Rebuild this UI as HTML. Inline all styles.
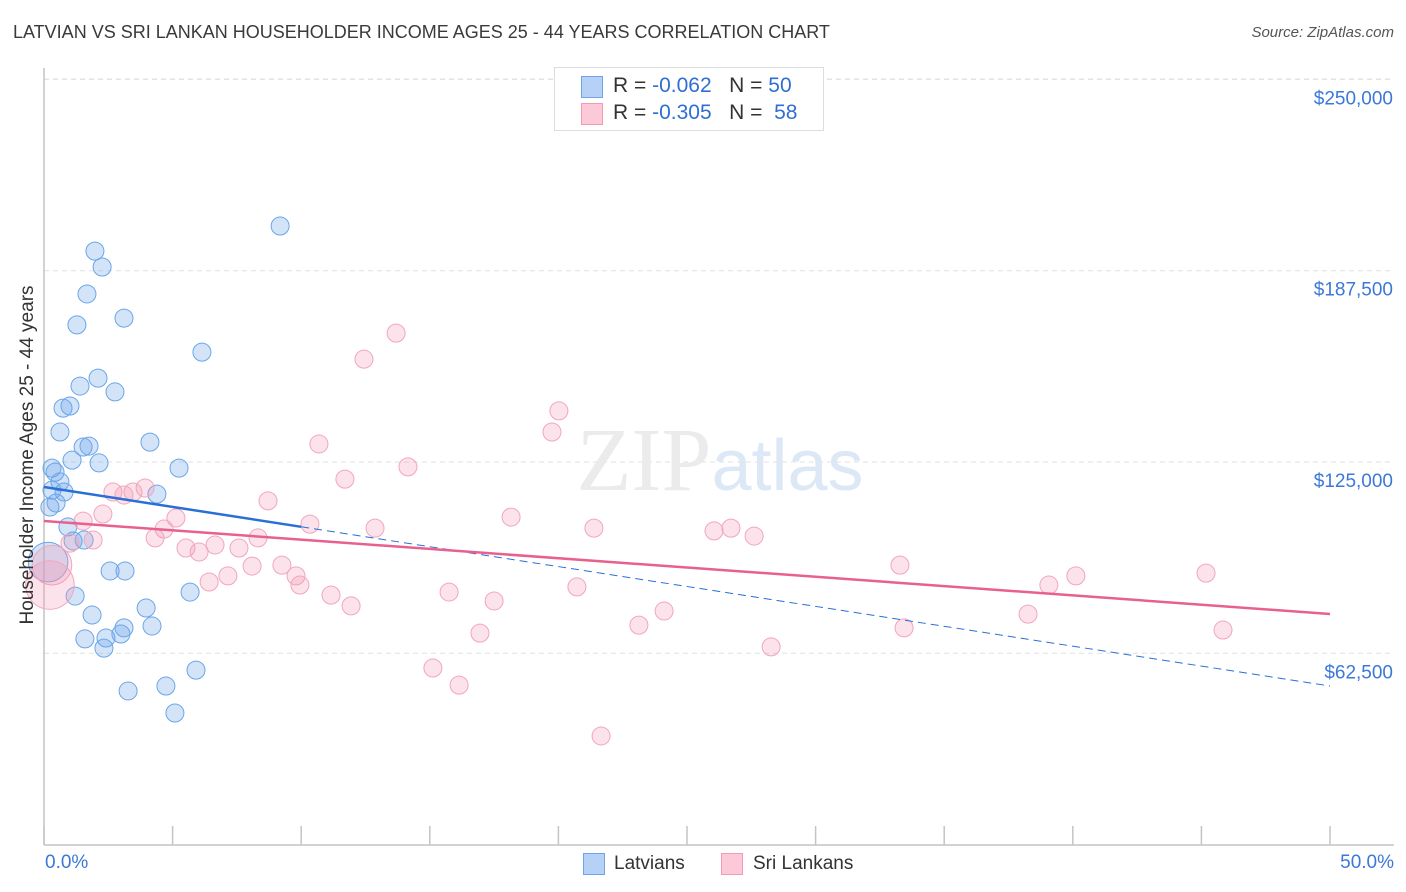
<!DOCTYPE html>
<html><head><meta charset="utf-8"><style>
body{margin:0;background:#fff;font-family:"Liberation Sans",sans-serif;}
#wrap{position:relative;width:1406px;height:892px;overflow:hidden}
.t{position:absolute;white-space:nowrap}
</style></head><body>
<div id="wrap">
<div class="t" style="left:13px;top:22px;font-size:18px;color:#3a3a3a">LATVIAN VS SRI LANKAN HOUSEHOLDER INCOME AGES 25 - 44 YEARS CORRELATION CHART</div>
<div class="t" style="right:12px;top:24px;font-size:15px;color:#555;font-style:italic">Source: ZipAtlas.com</div>
<svg id="svg" width="1406" height="892" style="position:absolute;left:0;top:0"></svg>
</div>
<script>
const yTicks=[62500,125000,187500,250000];
const yTickLabels=["$62,500","$125,000","$187,500","$250,000"];
const latX=[9.18,1.98,2.26,1.67,3.11,1.28,6.14,2.10,1.40,2.76,1.01,0.74,0.62,4.12,1.52,1.75,1.09,2.14,5.25,0.31,0.43,0.62,0.31,0.78,4.39,0.47,0.23,0.93,1.13,1.56,2.57,3.15,1.21,3.97,5.68,1.87,4.20,3.11,2.99,2.41,1.59,2.33,5.91,4.74,3.27,5.09,0.16];
const latY=[202.1,193.9,188.7,179.9,172.0,169.8,160.9,152.4,149.8,147.9,143.3,142.6,134.8,131.5,129.9,130.2,125.6,124.7,123.0,123.0,121.7,118.5,115.8,115.2,114.5,111.6,110.3,103.8,99.2,99.5,89.4,89.4,81.2,77.3,82.5,75.0,71.4,70.8,68.8,67.5,67.2,64.2,57.0,51.8,50.2,43.0,92.3];
const latW=[1,1,1,1,1,1,1,1,1,1,1,1,1,1,1,1,1,1,1,1,1,1,1,1,1,1,1,1,1,1,1,1,1,1,1,1,1,1,1,1,1,1,1,1,1,1,4];
const sriX=[13.69,12.44,20.02,19.75,10.69,14.15,11.70,8.71,3.93,2.68,3.46,3.11,18.16,1.52,2.29,5.13,10.34,12.87,21.38,26.05,26.71,27.61,4.67,4.32,1.91,1.01,8.32,7.58,6.65,5.52,6.03,9.25,8.09,9.80,9.95,7.15,6.42,11.16,11.94,15.75,17.50,20.72,33.28,39.07,40.12,45.18,24.11,23.13,38.26,33.44,45.84,16.95,28.27,15.12,16.14,21.66,0.31,0.23];
const sriY=[167.1,158.6,141.7,134.8,130.9,123.4,119.4,112.3,116.5,115.2,115.2,114.2,107.0,105.7,108.0,106.7,104.7,103.4,103.4,102.5,103.4,100.8,103.1,100.2,99.5,98.5,100.2,96.9,97.9,96.9,95.6,91.3,91.0,87.8,84.8,87.8,85.8,81.5,78.0,82.5,79.6,84.2,91.3,84.8,87.8,88.7,76.3,71.7,75.3,70.8,70.1,69.1,64.6,57.7,52.1,35.5,91.3,84.8];
const sriW=[1,1,1,1,1,1,1,1,1,1,1,1,1,1,1,1,1,1,1,1,1,1,1,1,1,1,1,1,1,1,1,1,1,1,1,1,1,1,1,1,1,1,1,1,1,1,1,1,1,1,1,1,1,1,1,1,4,6];
const latTrend=[116.83,51.82];
const sriTrend=[105.72,75.34];
const X0=44,X1=1330,Y0=844.6,YPER=191.3/62.5;
const sx=v=>X0+(v/50)*(X1-X0);
const sy=v=>Y0-v*YPER;
const svg=document.getElementById('svg');
const NS='http://www.w3.org/2000/svg';
function mk(t,a){const e=document.createElementNS(NS,t);for(const k in a)e.setAttribute(k,a[k]);svg.appendChild(e);return e;}
yTicks.forEach((v,i)=>{
 const g=mk('line',{x1:44,x2:1394,y1:sy(v/1000),y2:sy(v/1000),stroke:'#e0e0e0','stroke-dasharray':'5,4'});
 
 
 const t=mk('text',{x:1393,y:sy(v/1000)+25,'text-anchor':'end','font-size':19,fill:'#3b78d8','font-family':'Liberation Sans, sans-serif'});
 t.textContent=yTickLabels[i];
 
 
});
const topGrid=mk('line',{x1:44,x2:1394,y1:79,y2:79,stroke:'#e0e0e0','stroke-dasharray':'5,4'});


const ya=mk('line',{x1:44,x2:44,y1:68,y2:845,stroke:'#c4c4c4','stroke-width':1.5});


const xa=mk('line',{x1:44,x2:1394,y1:845,y2:845,stroke:'#c4c4c4','stroke-width':1.5});


for(let i=0;i<=10;i++){const tk=mk('line',{x1:sx(i*5),x2:sx(i*5),y1:826,y2:845,stroke:'#c4c4c4','stroke-width':1.5});
 
 }
const wm=mk('text',{x:720,y:490,'text-anchor':'middle','font-size':90,fill:'#ebebeb','font-family':'Liberation Serif, serif'});


wm.innerHTML='ZIP<tspan fill="#dde8f6" font-family="Liberation Sans, sans-serif" font-size="72">atlas</tspan>';
function pts(xs,ys,ws,fill,stroke,name){xs.forEach((x,i)=>{const c=mk('circle',{cx:sx(x),cy:sy(ys[i]),r:ws[i]>1?9*Math.sqrt(ws[i])*1.1:9,fill:fill,stroke:stroke,'stroke-width':1});
 
 });}
pts(latX,latY,latW,'rgba(110,165,235,0.3)','#6aa6e8','latvian-point');
pts(sriX,sriY,sriW,'rgba(245,150,180,0.28)','#f2a6bd','sri-lankan-point');
const lb=v=>latTrend[0]+(latTrend[1]-latTrend[0])*v/50;
const l1=mk('line',{x1:sx(0),y1:sy(lb(0)),x2:sx(10),y2:sy(lb(10)),stroke:'#2a6fd6','stroke-width':2.5});


const l2=mk('line',{x1:sx(10),y1:sy(lb(10)),x2:sx(50),y2:sy(lb(50)),stroke:'#2a6fd6','stroke-width':1,'stroke-dasharray':'8,5'});


const l3=mk('line',{x1:sx(0),y1:sy(sriTrend[0]),x2:sx(50),y2:sy(sriTrend[1]),stroke:'#e8608e','stroke-width':2.5});


</script>
<div style="position:absolute;left:554px;top:67px;width:268px;height:62px;border:1px solid #ddd;background:#fff;font-size:21px;color:#333">
 <div style="position:absolute;left:26px;top:8px;width:20px;height:20px;background:#b5d1f5;border:1px solid #6fa4e8"></div>
 <div class="t" style="left:58px;top:6px">R = <span style="color:#2f6fd1">-0.062</span>&nbsp;&nbsp;&nbsp;N = <span style="color:#2f6fd1">50</span></div>
 <div style="position:absolute;left:26px;top:35px;width:20px;height:20px;background:#fbc9d8;border:1px solid #f09ab4"></div>
 <div class="t" style="left:58px;top:33px">R = <span style="color:#2f6fd1">-0.305</span>&nbsp;&nbsp;&nbsp;N = <span style="color:#2f6fd1">&nbsp;58</span></div>
</div>
<div class="t" style="left:28px;top:455px;font-size:19px;color:#333;transform:translate(-50%,-50%) rotate(-90deg);transform-origin:center">Householder Income Ages 25 - 44 years</div>
<div class="t" style="left:45px;top:852px;font-size:19px;color:#3b78d8">0.0%</div>
<div class="t" style="right:12px;top:852px;font-size:19px;color:#3b78d8">50.0%</div>
<div style="position:absolute;left:583px;top:853px;width:20px;height:20px;background:#b5d1f5;border:1px solid #6fa4e8"></div>
<div class="t" style="left:614px;top:853px;font-size:19px;color:#333">Latvians</div>
<div style="position:absolute;left:721px;top:853px;width:20px;height:20px;background:#fbc9d8;border:1px solid #f09ab4"></div>
<div class="t" style="left:753px;top:853px;font-size:19px;color:#333">Sri Lankans</div>
</body></html>
